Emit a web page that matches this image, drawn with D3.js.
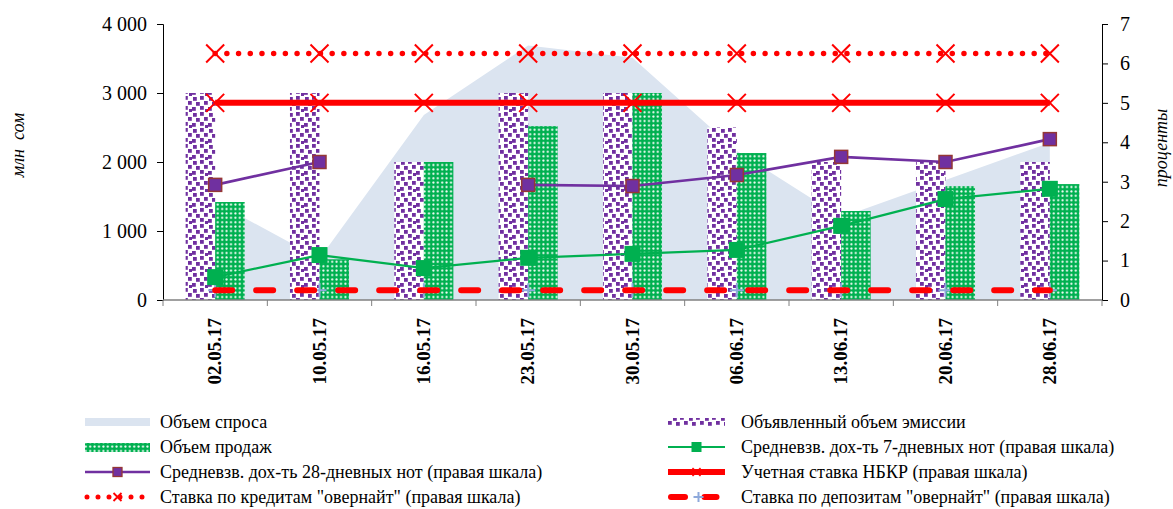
<!DOCTYPE html>
<html>
<head>
<meta charset="utf-8">
<script src="https://cdn.jsdelivr.net/npm/d3@7"></script>
<style>
  body { margin: 0; background: #fff; }
  svg text { font-family: "Liberation Serif", "Times New Roman", Times, serif; fill: #000; }
  .tick-label { font-size: 20px; }
  .x-label { font-size: 19px; font-weight: bold; }
  .axis-title { font-size: 18px; font-style: italic; }
  .legend text { font-size: 18px; }
</style>
</head>
<body>
<svg id="chart" width="1173" height="509"></svg>
<script>
// Data
var dates = ["02.05.17", "10.05.17", "16.05.17", "23.05.17", "30.05.17", "06.06.17", "13.06.17", "20.06.17", "28.06.17"];
var demand = [1420, 600, 2680, 3690, 3510, 2160, 1200, 1740, 2280];
var issue = [3000, 3000, 2000, 3000, 3000, 2500, 2000, 2000, 2000];
var sales = [1420, 590, 2000, 2520, 3000, 2130, 1290, 1650, 1680];
var yield28 = [2.92, 3.5, null, 2.92, 2.89, 3.17, 3.63, 3.5, 4.08];
var yield7 = [0.58, 1.14, 0.81, 1.07, 1.17, 1.27, 1.88, 2.56, 2.82];
var discount = [5, 5, 5, 5, 5, 5, 5, 5, 5];
var creditON = [6.25, 6.25, 6.25, 6.25, 6.25, 6.25, 6.25, 6.25, 6.25];
var depositON = [0.25, 0.25, 0.25, 0.25, 0.25, 0.25, 0.25, 0.25, 0.25];
var leftTicks = [0, 1000, 2000, 3000, 4000];
var rightTicks = [0, 1, 2, 3, 4, 5, 6, 7];
var legendNames = [
  "Объем спроса",
  "Объявленный объем эмиссии",
  "Объем продаж",
  "Средневзв. дох-ть 7-дневных нот (правая шкала)",
  "Средневзв. дох-ть 28-дневных нот (правая шкала)",
  "Учетная ставка НБКР (правая шкала)",
  "Ставка по кредитам \"овернайт\" (правая шкала)",
  "Ставка по депозитам \"овернайт\" (правая шкала)"
];

var C = {
  area: "#dbe4f0",
  purple: "#7030a0",
  purpleEdge: "#953735",
  green: "#00b050",
  red: "#ff0000",
  plus: "#8ea9db"
};
var SERIF = "Liberation Serif, Times New Roman, serif";

var svg = d3.select("#chart");
var plot = { left: 163, right: 1102, top: 24, bottom: 300 };

var x = d3.scaleBand().domain(dates).range([plot.left, plot.right]).padding(0);
var cx = d => x(d) + x.bandwidth() / 2;
var barW = x.bandwidth() * 0.283;
var yL = d3.scaleLinear().domain([0, 4000]).range([plot.bottom, plot.top]);
var yR = d3.scaleLinear().domain([0, 7]).range([plot.bottom, plot.top]);

// Fill patterns
var defs = svg.append("defs");
var conf = defs.append("pattern")
  .attr("id", "confetti")
  .attr("patternUnits", "userSpaceOnUse")
  .attr("width", 16).attr("height", 16);
conf.append("rect").attr("width", 16).attr("height", 16).attr("fill", "#fff");
[[1, 1], [8, 0], [12, 5], [4, 6], [0, 11], [8, 10], [13, 13]].forEach(function (p) {
  conf.append("rect").attr("x", p[0]).attr("y", p[1])
    .attr("width", 3.8).attr("height", 3.8).attr("fill", C.purple);
});

var dots = defs.append("pattern")
  .attr("id", "dots")
  .attr("patternUnits", "userSpaceOnUse")
  .attr("width", 4.4).attr("height", 4.4);
dots.append("rect").attr("width", 4.4).attr("height", 4.4).attr("fill", C.green);
dots.append("circle").attr("cx", 2.2).attr("cy", 2.2).attr("r", 1.05).attr("fill", "#fff");

// Demand area (behind bars)
var areaGen = d3.area()
  .x((d, i) => cx(dates[i]))
  .y0(yL(0))
  .y1(d => yL(d));
svg.append("path")
  .datum(demand)
  .attr("fill", C.area)
  .attr("d", areaGen);

// Bars
svg.append("g").selectAll("rect")
  .data(issue)
  .enter().append("rect")
  .attr("x", (d, i) => cx(dates[i]) - barW)
  .attr("y", d => yL(d))
  .attr("width", barW)
  .attr("height", d => yL(0) - yL(d))
  .attr("fill", "url(#confetti)");

svg.append("g").selectAll("rect")
  .data(sales)
  .enter().append("rect")
  .attr("x", (d, i) => cx(dates[i]))
  .attr("y", d => yL(d))
  .attr("width", barW)
  .attr("height", d => yL(0) - yL(d))
  .attr("fill", "url(#dots)");

// Axes
var leftAxis = d3.axisLeft(yL).tickValues(leftTicks).tickSize(6).tickPadding(10)
  .tickFormat(d => d3.format(",")(d).replace(/,/g, " "));
var gL = svg.append("g").attr("transform", `translate(${plot.left},0)`).call(leftAxis)
  .attr("font-family", SERIF).attr("font-size", 20);
gL.select(".domain").attr("stroke", "#000");
gL.selectAll("text").attr("class", "tick-label");

var rightAxis = d3.axisRight(yR).tickValues(rightTicks).tickSize(6).tickPadding(12)
  .tickFormat(d3.format("d"));
var gR = svg.append("g").attr("transform", `translate(${plot.right},0)`).call(rightAxis)
  .attr("font-family", SERIF).attr("font-size", 20);
gR.select(".domain").attr("stroke", "#000");
gR.selectAll("text").attr("class", "tick-label");

// Category axis: ticks at band edges, rotated labels at centres
var gX = svg.append("g");
gX.append("line")
  .attr("x1", plot.left).attr("x2", plot.right)
  .attr("y1", plot.bottom).attr("y2", plot.bottom)
  .attr("stroke", "#808080").attr("stroke-width", 1.3);
gX.selectAll("line.tk")
  .data(dates.concat(["end"]))
  .enter().append("line")
  .attr("class", "tk")
  .attr("x1", (d, i) => i < dates.length ? x(d) : plot.right)
  .attr("x2", (d, i) => i < dates.length ? x(d) : plot.right)
  .attr("y1", plot.bottom).attr("y2", plot.bottom + 6)
  .attr("stroke", "#808080");
gX.selectAll("text")
  .data(dates)
  .enter().append("text")
  .attr("class", "x-label")
  .attr("font-family", SERIF)
  .attr("text-anchor", "end")
  .attr("transform", d => `translate(${cx(d) + 6},${plot.bottom + 18}) rotate(-90)`)
  .text(d => d);

// Axis titles
svg.append("text").attr("class", "axis-title")
  .attr("font-family", SERIF)
  .attr("text-anchor", "middle")
  .attr("transform", "translate(24,145) rotate(-90)")
  .attr("xml:space", "preserve")
  .text("млн  сом");
svg.append("text").attr("class", "axis-title")
  .attr("font-family", SERIF)
  .attr("text-anchor", "middle")
  .attr("transform", "translate(1167,148) rotate(-90)")
  .text("проценты");

// Lines
var lineR = d3.line()
  .defined(d => d != null)
  .x((d, i) => cx(dates[i]))
  .y(d => yR(d));

function xMark(g, px, py, s, w) {
  g.append("path")
    .attr("d", `M${px - s},${py - s}L${px + s},${py + s}M${px - s},${py + s}L${px + s},${py - s}`)
    .attr("stroke", C.red).attr("stroke-width", w).attr("fill", "none");
}
function plusMark(g, px, py, s) {
  g.append("path")
    .attr("d", `M${px - s},${py}L${px + s},${py}M${px},${py - s}L${px},${py + s}`)
    .attr("stroke", C.plus).attr("stroke-width", 2).attr("fill", "none");
}

// deposit overnight: + markers then dashed line
var gDep = svg.append("g");
depositON.forEach((d, i) => plusMark(gDep, cx(dates[i]), yR(d), 7));
gDep.append("path").datum(depositON)
  .attr("d", lineR)
  .attr("fill", "none").attr("stroke", C.red)
  .attr("stroke-width", 6).attr("stroke-linecap", "round")
  .attr("stroke-dasharray", "17,24");

// 7-day yield
var g7 = svg.append("g");
g7.append("path").datum(yield7)
  .attr("d", lineR).attr("fill", "none")
  .attr("stroke", C.green).attr("stroke-width", 2.2);
g7.selectAll("rect").data(yield7).enter().append("rect")
  .attr("x", (d, i) => cx(dates[i]) - 8).attr("y", d => yR(d) - 8)
  .attr("width", 16).attr("height", 16).attr("fill", C.green);

// 28-day yield
var g28 = svg.append("g");
g28.append("path").datum(yield28)
  .attr("d", lineR).attr("fill", "none")
  .attr("stroke", C.purple).attr("stroke-width", 2.6);
g28.selectAll("rect").data(yield28.map((v, i) => ({ v: v, i: i })).filter(d => d.v != null))
  .enter().append("rect")
  .attr("x", d => cx(dates[d.i]) - 6.5).attr("y", d => yR(d.v) - 6.5)
  .attr("width", 13).attr("height", 13)
  .attr("fill", C.purple).attr("stroke", C.purpleEdge).attr("stroke-width", 1.5);

// Discount rate
var gDisc = svg.append("g");
gDisc.append("path").datum(discount)
  .attr("d", lineR).attr("fill", "none")
  .attr("stroke", C.red).attr("stroke-width", 6);
discount.forEach((d, i) => xMark(gDisc, cx(dates[i]), yR(d), 9, 2));

// Overnight credit
var gCred = svg.append("g");
gCred.append("path").datum(creditON)
  .attr("d", lineR).attr("fill", "none")
  .attr("stroke", C.red).attr("stroke-width", 5.5)
  .attr("stroke-linecap", "round").attr("stroke-dasharray", "0,11.7");
creditON.forEach((d, i) => xMark(gCred, cx(dates[i]), yR(d), 9, 2));

// Legend
var leg = svg.append("g").attr("class", "legend").attr("font-family", SERIF);
var cols = [{ sx: 85, ex: 150, tx: 160 }, { sx: 668, ex: 725, tx: 741 }];
var rowsY = [422, 447, 472, 497];

legendNames.forEach(function (name, k) {
  var c = cols[k % 2], yy = rowsY[Math.floor(k / 2)];
  var g = leg.append("g");
  var mid = (c.sx + c.ex) / 2;
  if (k === 0) {
    g.append("rect").attr("x", c.sx).attr("y", yy - 4).attr("width", c.ex - c.sx).attr("height", 8).attr("fill", C.area);
  } else if (k === 1) {
    g.append("rect").attr("x", c.sx).attr("y", yy - 4).attr("width", c.ex - c.sx).attr("height", 8).attr("fill", "url(#confetti)");
  } else if (k === 2) {
    g.append("rect").attr("x", c.sx).attr("y", yy - 4).attr("width", c.ex - c.sx).attr("height", 9).attr("fill", "url(#dots)");
  } else if (k === 3) {
    g.append("line").attr("x1", c.sx).attr("x2", c.ex).attr("y1", yy).attr("y2", yy).attr("stroke", C.green).attr("stroke-width", 2.2);
    g.append("rect").attr("x", mid - 5).attr("y", yy - 5).attr("width", 10).attr("height", 10).attr("fill", C.green);
  } else if (k === 4) {
    g.append("line").attr("x1", c.sx).attr("x2", c.ex).attr("y1", yy).attr("y2", yy).attr("stroke", C.purple).attr("stroke-width", 2.6);
    g.append("rect").attr("x", mid - 4.5).attr("y", yy - 4.5).attr("width", 9).attr("height", 9)
      .attr("fill", C.purple).attr("stroke", C.purpleEdge).attr("stroke-width", 1.3);
  } else if (k === 5) {
    g.append("line").attr("x1", c.sx).attr("x2", c.ex).attr("y1", yy).attr("y2", yy).attr("stroke", C.red).attr("stroke-width", 6);
    xMark(g, mid, yy, 4, 1.5);
  } else if (k === 6) {
    g.append("line").attr("x1", c.sx + 2).attr("x2", c.ex).attr("y1", yy).attr("y2", yy).attr("stroke", C.red)
      .attr("stroke-width", 5).attr("stroke-linecap", "round").attr("stroke-dasharray", "0,11");
    xMark(g, mid, yy, 4, 1.8);
  } else {
    g.append("line").attr("x1", c.sx + 3).attr("x2", c.sx + 17).attr("y1", yy).attr("y2", yy).attr("stroke", C.red)
      .attr("stroke-width", 6).attr("stroke-linecap", "round");
    g.append("line").attr("x1", mid + 8).attr("x2", mid + 20).attr("y1", yy).attr("y2", yy).attr("stroke", C.red)
      .attr("stroke-width", 6).attr("stroke-linecap", "round");
    plusMark(g, mid + 2, yy, 5);
  }
  g.append("text").attr("x", c.tx).attr("y", yy).attr("dy", "0.35em").text(name);
});
</script>
</body>
</html>
